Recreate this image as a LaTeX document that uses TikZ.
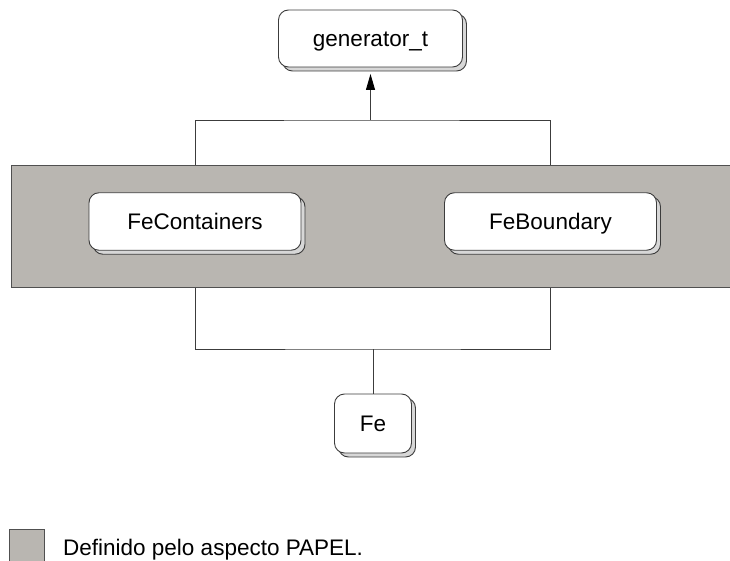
\documentclass[tikz,border=0pt]{standalone}
\usepackage{fontspec}
\setmainfont{Liberation Sans}
\usetikzlibrary{shadows,arrows.meta}
\pgfdeclarelayer{links}
\pgfdeclarelayer{band}
\pgfsetlayers{links,band,main}
\definecolor{aspectgray}{RGB}{185,182,177}
\definecolor{shadowgray}{RGB}{215,215,215}
\definecolor{edgegray}{RGB}{60,60,60}
\tikzset{
  module/.style={draw=edgegray, line width=0.9pt, fill=white, rounded corners=10pt,
    font=\fontsize{22.5}{26}\selectfont, inner sep=0pt, text height=16pt, text depth=0pt,
    copy shadow={shadow xshift=4pt, shadow yshift=-4pt, fill=shadowgray, draw=edgegray, line width=0.9pt}},
  link/.style={draw=edgegray, line width=0.9pt},
  aspect/.style={fill=aspectgray, draw=edgegray!90, line width=0.9pt}
}
\begin{document}
\begin{tikzpicture}[x=1pt,y=-1pt]
\useasboundingbox (0,0) rectangle (730,561);
\clip (0,0) rectangle (730,561);

% modules
\node[module, minimum width=184pt, minimum height=57pt] (gen) at (370.5,38.5) {generator\_t};
\node[module, minimum width=212pt, minimum height=57.5pt] (fec) at (195,221.5) {FeContainers};
\node[module, minimum width=212pt, minimum height=57.5pt] (feb) at (550.5,221.5) {FeBoundary};
\node[module, minimum width=77pt, minimum height=59pt] (fe) at (373,423.5) {Fe};

% junction points of the connectors
\coordinate (jt) at (370.5,120);
\coordinate (jb) at (373,349);

\begin{pgfonlayer}{links}
  \draw[link] (fec.north) |- (jt) -| (feb.north);
  \draw[link] (fec.south) |- (jb) -| (feb.south);
  \draw[link] (jb) -- (fe.north);
\end{pgfonlayer}
\draw[link, -{Triangle[length=16pt, width=9pt, color=black]}, shorten >=6.5pt] (jt) -- (gen.south);

% aspect band
\begin{pgfonlayer}{band}
  \path[aspect] (11,165.5) rectangle (740,287);
\end{pgfonlayer}

% legend
\path[aspect] (9,529) rectangle (44,570);
\node[anchor=base west, inner sep=0pt, font=\fontsize{22.5}{26}\selectfont] (legend) at (63,555) {Definido pelo aspecto PAPEL.};
\end{tikzpicture}
\end{document}
